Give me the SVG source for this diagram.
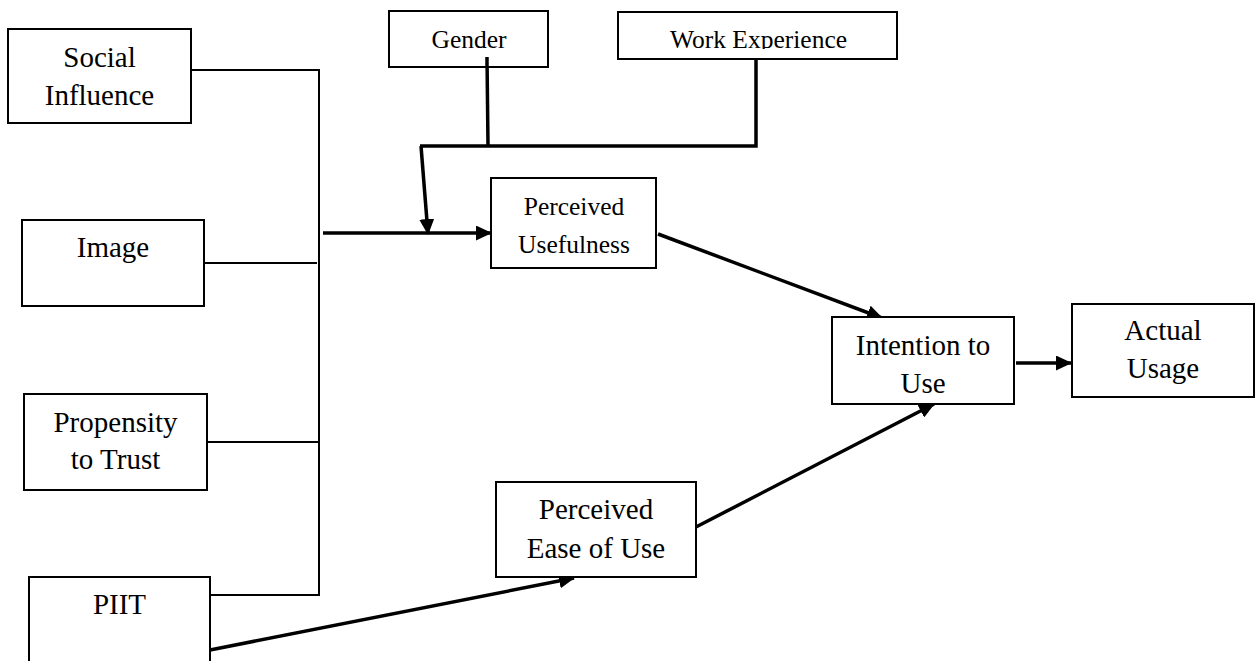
<svg xmlns="http://www.w3.org/2000/svg" width="1256" height="661" viewBox="0 0 1256 661">
<style>
.box{fill:#fff;stroke:#000;stroke-width:2}
.t{font-family:"Liberation Serif","Times New Roman",serif;font-size:29px;fill:#000;text-anchor:middle}
.s{font-size:25.5px}
.thin{fill:none;stroke:#000;stroke-width:2}
.thick{fill:none;stroke:#000;stroke-width:3.5}
.arr{marker-end:url(#ah)}
</style>
<defs>
<marker id="ah" markerUnits="userSpaceOnUse" markerWidth="16" markerHeight="15" refX="15" refY="7.5" orient="auto">
<path d="M0,0 L16,7.5 L0,15 z" fill="#000"/>
</marker>
<clipPath id="weclip"><rect x="618" y="12" width="279" height="37"/></clipPath>
</defs>
<rect width="1256" height="661" fill="#fff"/>
<g id="connectors">
<polyline class="thin" points="191,70 319,70 319,595 210,595"/>
<line class="thin" x1="204" y1="263" x2="317" y2="263"/>
<line class="thin" x1="207" y1="442" x2="318" y2="442"/>
<line class="thick arr" x1="323" y1="233" x2="491" y2="233"/>
<line class="thick" x1="487" y1="57" x2="488" y2="146"/>
<polyline class="thick" points="756,59 756,146 420,146"/>
<line class="thick arr" x1="421" y1="146" x2="428" y2="234"/>
<line class="thick arr" x1="658" y1="234" x2="882" y2="318"/>
<line class="thick arr" x1="696" y1="527" x2="934" y2="404"/>
<line class="thick arr" x1="1016" y1="363" x2="1071" y2="363"/>
<line class="thick arr" x1="210" y1="650" x2="574" y2="578"/>
</g>
<g id="social-influence">
<rect class="box" x="8" y="29" width="183" height="94"/>
<text class="t" x="99.5" y="67">Social</text>
<text class="t" x="99.5" y="105">Influence</text>
</g>
<g id="image">
<rect class="box" x="22" y="220" width="182" height="86"/>
<text class="t" x="113" y="257">Image</text>
</g>
<g id="propensity-to-trust">
<rect class="box" x="24" y="394" width="183" height="96"/>
<text class="t" x="115.5" y="432">Propensity</text>
<text class="t" x="115.5" y="469">to Trust</text>
</g>
<g id="piit">
<rect class="box" x="29" y="577" width="181" height="100"/>
<text class="t" x="119.5" y="614">PIIT</text>
</g>
<g id="gender">
<rect class="box" x="389" y="11" width="159" height="56"/>
<line class="thick" x1="487" y1="57" x2="487" y2="67"/>
<text class="t s" x="469" y="48">Gender</text>
</g>
<g id="work-experience">
<rect class="box" x="618" y="12" width="279" height="47"/>
<text class="t s" x="758.5" y="48" clip-path="url(#weclip)">Work Experience</text>
</g>
<g id="perceived-usefulness">
<rect class="box" x="491" y="178" width="165" height="90"/>
<text class="t s" x="574" y="215">Perceived</text>
<text class="t s" x="574" y="253">Usefulness</text>
</g>
<g id="perceived-ease-of-use">
<rect class="box" x="496" y="482" width="200" height="95"/>
<text class="t" x="596" y="519">Perceived</text>
<text class="t" x="596" y="558">Ease of Use</text>
</g>
<g id="intention-to-use">
<rect class="box" x="832" y="317" width="182" height="87"/>
<text class="t" x="923" y="355">Intention to</text>
<text class="t" x="923" y="393">Use</text>
</g>
<g id="actual-usage">
<rect class="box" x="1072" y="304" width="182" height="93"/>
<text class="t" x="1163" y="340">Actual</text>
<text class="t" x="1163" y="378">Usage</text>
</g>
</svg>
